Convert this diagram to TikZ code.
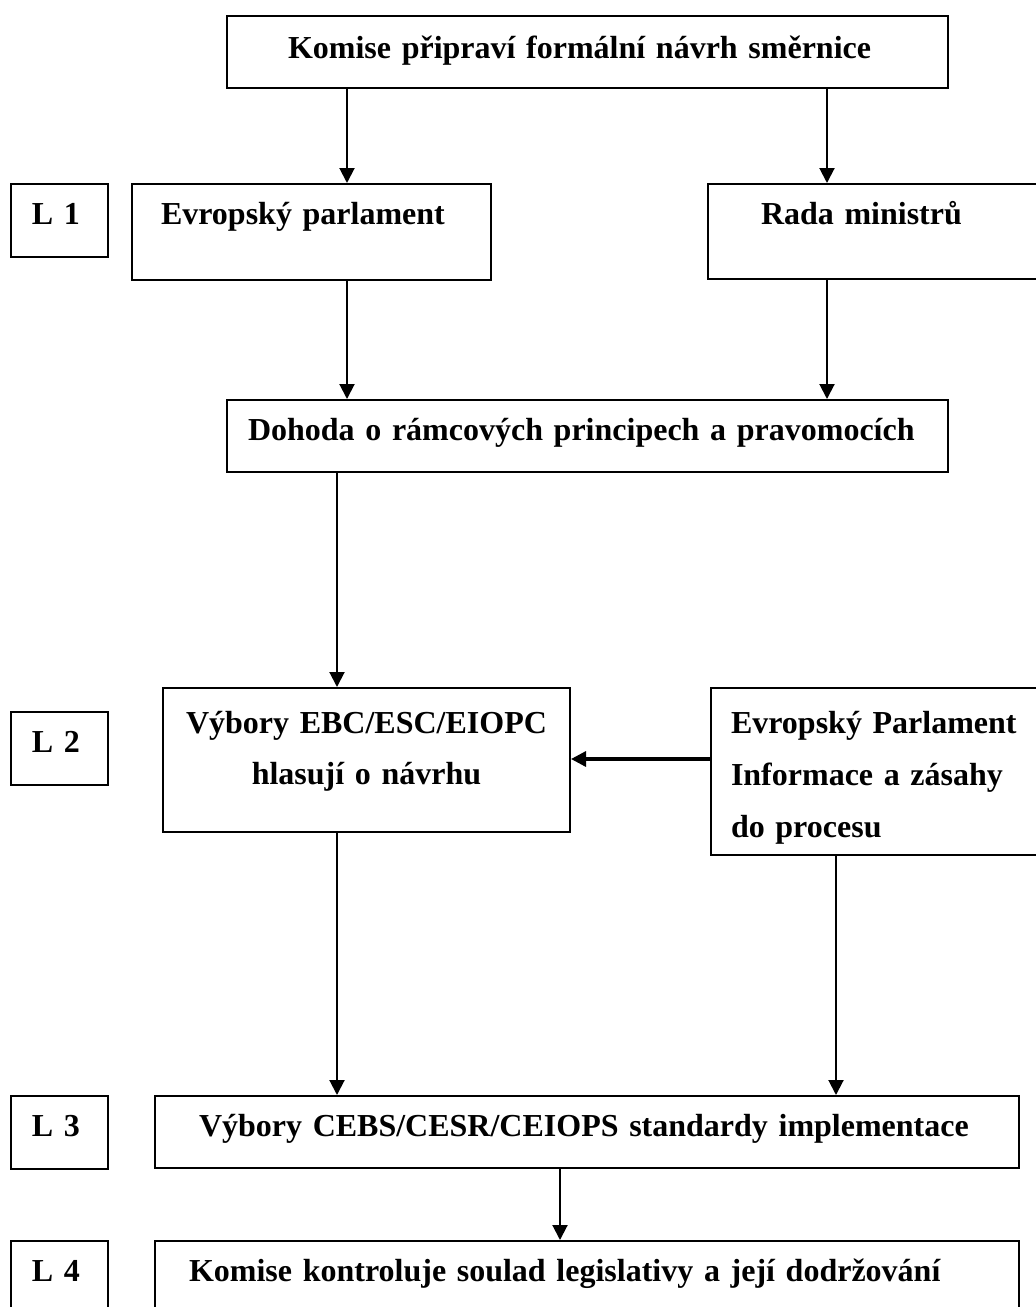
\documentclass[tikz,border=0pt]{standalone}
\usepackage{fontspec}
\setmainfont{Liberation Serif}
\usetikzlibrary{arrows.meta}
\tikzset{stepbox/.style={draw=black, line width=1pt, anchor=north west, inner ysep=0pt, align=left, font=\bfseries\fontsize{16pt}{25.5pt}\selectfont},
flowarrow/.style={-{Triangle[width=7.5pt, length=7.5pt]}, line width=1pt}}
\begin{document}
\begin{tikzpicture}
        \useasboundingbox (0pt, 0pt) rectangle (517.5pt, -653.5pt);
        % Level boxes
        \foreach \n/\y/\h/\d in {
            1/-91.5pt/36.5pt/16.5pt,
            2/-355.5pt/36.5pt/16.5pt,
            3/-547.5pt/36.5pt/16.5pt,
            4/-620pt/37.5pt/17.5pt} {
            \node[stepbox, minimum width=48.5pt, minimum height=\h, inner xsep=10.5pt, text width=27.5pt, text height=20pt, text depth=\d] (L\n) at (5pt, \y) {L \n};
        }
        % Boxes
        \node[stepbox, minimum width=360.5pt, minimum height=36pt, inner xsep=30.5pt, text width=299.5pt, text height=21pt, text depth=15pt] (komise) at (113pt, -7.5pt) {Komise připraví formální návrh směrnice};
        \node[stepbox, minimum width=179.5pt, minimum height=48pt, inner xsep=14.5pt, text width=150.5pt, text height=20pt, text depth=28pt] (parl) at (65.5pt, -91.5pt) {Evropský parlament};
        \node[stepbox, minimum width=169pt, minimum height=47.5pt, inner xsep=26.5pt, text width=116pt, text height=20pt, text depth=27.5pt] (rada) at (353.5pt, -91.5pt) {Rada ministrů};
        \node[stepbox, minimum width=360.5pt, minimum height=36pt, inner xsep=10.5pt, text width=339.5pt, text height=20pt, text depth=16pt] (dohoda) at (113pt, -199.5pt) {Dohoda o rámcových principech a pravomocích};
        \node[stepbox, align=center, minimum width=203.5pt, minimum height=72pt, inner xsep=5pt, text width=193.5pt, text height=22.5pt, text depth=49.5pt] (vybory) at (81pt, -343.5pt) {Výbory EBC/ESC/EIOPC\\hlasují o návrhu};
        \node[stepbox, font=\bfseries\fontsize{16pt}{26pt}\selectfont, minimum width=167.5pt, minimum height=83.5pt, inner xsep=10pt, text width=147.5pt, text height=22.5pt, text depth=61pt] (epinfo) at (355pt, -343.5pt) {Evropský Parlament\\Informace a zásahy\\do procesu};
        \node[stepbox, minimum width=432pt, minimum height=36pt, inner xsep=22pt, text width=388pt, text height=20pt, text depth=16pt] (cebs) at (77pt, -547.5pt) {Výbory CEBS/CESR/CEIOPS standardy implementace};
        \node[stepbox, minimum width=432pt, minimum height=37.5pt, inner xsep=17pt, text width=398pt, text height=20pt, text depth=17.5pt] (kontrola) at (77pt, -620pt) {Komise kontroluje soulad legislativy a její dodržování};
        % Connector columns
        \coordinate (colA) at (173.5pt, 0pt);
        \coordinate (colB) at (413.5pt, 0pt);
        \coordinate (colC) at (168.5pt, 0pt);
        \coordinate (colD) at (418pt, 0pt);
        \coordinate (colE) at (280pt, 0pt);
        \coordinate (rowH) at (0pt, -379.5pt);
        % Arrows
        \draw[flowarrow] (komise.south -| colA) -- (parl.north -| colA);
        \draw[flowarrow] (komise.south -| colB) -- (rada.north -| colB);
        \draw[flowarrow] (parl.south -| colA) -- (dohoda.north -| colA);
        \draw[flowarrow] (rada.south -| colB) -- (dohoda.north -| colB);
        \draw[flowarrow] (dohoda.south -| colC) -- (vybory.north -| colC);
        \draw[flowarrow, line width=1.6pt] (epinfo.west |- rowH) -- (vybory.east |- rowH);
        \draw[flowarrow] (vybory.south -| colC) -- (cebs.north -| colC);
        \draw[flowarrow] (epinfo.south -| colD) -- (cebs.north -| colD);
        \draw[flowarrow] (cebs.south -| colE) -- (kontrola.north -| colE);
    \end{tikzpicture}
\end{document}
